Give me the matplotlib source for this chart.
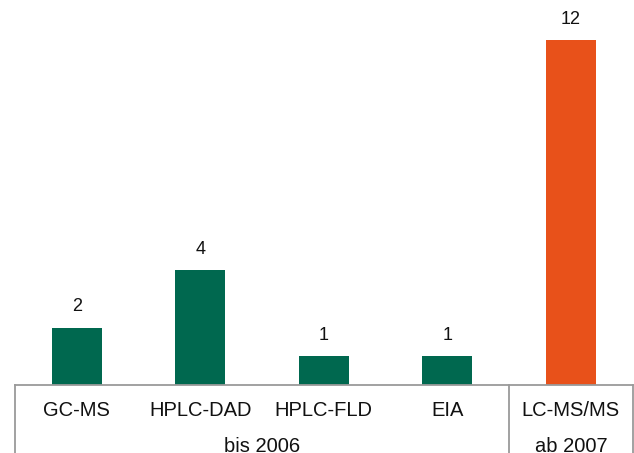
import matplotlib
matplotlib.use("Agg")
import matplotlib.pyplot as plt

plt.rcParams['font.family'] = ['Liberation Sans', 'DejaVu Sans']

methods = ["GC-MS", "HPLC-DAD", "HPLC-FLD", "EIA", "LC-MS/MS"]
counts = [2, 4, 1, 1, 12]
periods = ["bis 2006", "bis 2006", "bis 2006", "bis 2006", "ab 2007"]
period_labels = ["bis 2006", "ab 2007"]

green = "#00684F"
orange = "#E8511A"
colors = [green, green, green, green, orange]

W, H = 634, 453
fig = plt.figure(figsize=(W / 100, H / 100), dpi=100)
left, right, base_y = 15, 632.7, 385
ax = fig.add_axes([left / W, (H - base_y) / H, (right - left) / W, base_y / H])

x = list(range(len(methods)))
bars = ax.bar(x, counts, width=0.405, color=colors, zorder=2)
ax.set_xlim(-0.5, len(methods) - 0.5)
ax.set_ylim(0, 12 * base_y / 345)

for rect, v in zip(bars, counts):
    ax.annotate(str(v), (rect.get_x() + rect.get_width() / 2, rect.get_height()),
                xytext=(0, 9), textcoords="offset points",
                ha="center", va="bottom", fontsize=13, color="#111111")

for s in ax.spines.values():
    s.set_visible(False)
ax.set_xticks([])
ax.set_yticks([])
ax.patch.set_visible(False)

# Baseline and category axis separators
line_col = "#9A9A9A"
ax.plot([-0.5, len(methods) - 0.5], [0, 0], color=line_col, lw=1.3,
        clip_on=False, zorder=3)
trans = ax.get_xaxis_transform()
group_edges = [-0.5]
for i in range(1, len(periods)):
    if periods[i] != periods[i - 1]:
        group_edges.append(i - 0.5)
group_edges.append(len(methods) - 0.5)
for e in group_edges:
    ax.plot([e, e], [0, -0.2], color=line_col, lw=1.3, transform=trans,
            clip_on=False)

# Category labels (first level)
for xi, m in zip(x, methods):
    ax.text(xi, -26 / base_y, m, transform=trans, ha="center", va="center",
            fontsize=14.5, color="#111111")

# Period labels (second level)
for lab in period_labels:
    idx = [i for i, p in enumerate(periods) if p == lab]
    cx = (idx[0] + idx[-1]) / 2
    ax.text(cx, -62 / base_y, lab, transform=trans, ha="center", va="center",
            fontsize=14.5, color="#111111")

fig.savefig("out.png", dpi=100)
